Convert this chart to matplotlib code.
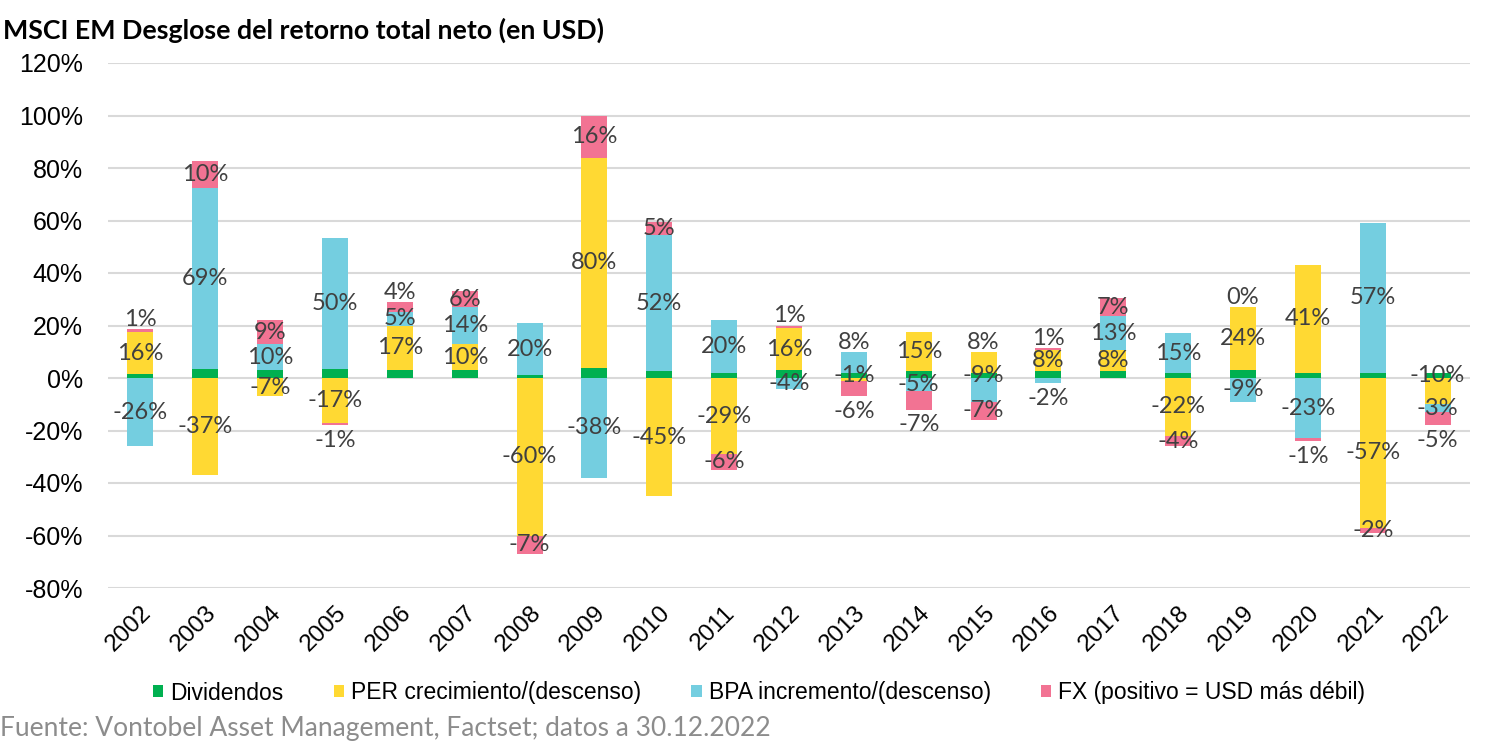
import numpy as np
import matplotlib
matplotlib.use("Agg")
import matplotlib.pyplot as plt
from matplotlib.patches import Patch

# ---------------- data ----------------
years = [str(y) for y in range(2002, 2023)]
dividendos = [1.5, 3.5, 3, 3.5, 3, 3, 1, 4, 2.5, 2, 3, 2, 2.5, 2, 2.5, 2.5, 2, 3, 2, 2, 2]
per = [16, -37, -7, -17, 17, 10, -60, 80, -45, -29, 16, -1, 15, 8, 8, 8, -22, 24, 41, -57, -10]
bpa = [-26, 69, 10, 50, 5, 14, 20, -38, 52, 20, -4, 8, -5, -9, -2, 13, 15, -9, -23, 57, -3]
fx = [1, 10, 9, -1, 4, 6, -7, 16, 5, -6, 1, -6, -7, -7, 1, 7, -4, 0, -1, -2, -5]

series_names = ["Dividendos", "PER crecimiento/(descenso)",
                "BPA incremento/(descenso)", "FX (positivo = USD más débil)"]
yticks = [-80, -60, -40, -20, 0, 20, 40, 60, 80, 100, 120]

title = "MSCI EM Desglose del retorno total neto (en USD)"
source = "Fuente: Vontobel Asset Management, Factset; datos a 30.12.2022"

# label placement tweaks (style, not data): 'out' = beyond the bar end, 'base' = at zero line
label_place = {
    ("2002", 3): "out", ("2005", 3): "out", ("2006", 3): "out", ("2012", 3): "out",
    ("2013", 2): "out", ("2013", 3): "out", ("2013", 1): "base",
    ("2014", 3): "out", ("2015", 1): "out", ("2015", 2): "base",
    ("2016", 3): "out", ("2016", 2): "out", ("2019", 3): "out",
    ("2020", 3): "out", ("2022", 3): "out", ("2022", 1): "base",
}

colors = ["#00B050", "#FFD933", "#74CEE0", "#F27393"]

# ---------------- figure ----------------
fig = plt.figure(figsize=(15, 7.5), dpi=100)
ax = fig.add_axes([0.072, 0.216, 0.908, 0.70])

x = np.arange(len(years))
width = 0.40
data = [np.array(dividendos, float), np.array(per, float),
        np.array(bpa, float), np.array(fx, float)]

pos_base = np.zeros(len(years))
neg_base = np.zeros(len(years))
segments = []
for i, vals in enumerate(data):
    bottoms = np.where(vals >= 0, pos_base, neg_base)
    ax.bar(x, vals, width, bottom=bottoms, color=colors[i], zorder=3, linewidth=0)
    segments.append((bottoms.copy(), vals))
    pos_base = pos_base + np.where(vals >= 0, vals, 0)
    neg_base = neg_base + np.where(vals < 0, vals, 0)

label_font = dict(family="Lato", fontsize=17, color="#404040")
for i in (1, 2, 3):
    bottoms, vals = segments[i]
    for j, v in enumerate(vals):
        mode = label_place.get((years[j], i), "c")
        txt = f"{v:.0f}%"
        if mode == "out":
            y = bottoms[j] + v
            dy = 7 if v >= 0 else -11
        elif mode == "base":
            y = 0
            dy = 2
        else:
            y = bottoms[j] + v / 2
            dy = 0
        ax.annotate(txt, (x[j], y), xytext=(0, dy), textcoords="offset points",
                    ha="center", va="center", zorder=5, **label_font)

ax.set_xlim(-0.5, len(years) - 0.5)
ax.set_ylim(-80, 120)
ax.set_yticks(yticks)
ax.set_yticklabels([f"{t}%" for t in yticks], family="Liberation Sans", fontsize=18)
ax.set_xticks(x)
ax.set_xticklabels(years, rotation=45, ha="right", rotation_mode="anchor",
                   family="Liberation Sans", fontsize=17.5)
ax.tick_params(axis="both", length=0)
ax.tick_params(axis="y", pad=18)
ax.tick_params(axis="x", pad=10)
ax.grid(axis="y", color="#D9D9D9", linewidth=1.5, zorder=0)
for s in ax.spines.values():
    s.set_visible(False)

handles = [Patch(facecolor=c, edgecolor="none") for c in colors]
fig.legend(handles, series_names, loc="center", bbox_to_anchor=(0.506, 0.076),
           ncol=4, frameon=False, prop=dict(family="Liberation Sans", size=16.5),
           handlelength=0.45, handleheight=0.45, handletextpad=0.3, columnspacing=2.2)

fig.text(0.002, 0.96, title, family="Lato", fontweight="bold", fontsize=19.3,
         ha="left", va="center", color="#000000")
fig.text(0.0, 0.029, source, family="Lato", fontsize=19, ha="left", va="center",
         color="#8C8C8C")

fig.savefig("out.png", dpi=100)
